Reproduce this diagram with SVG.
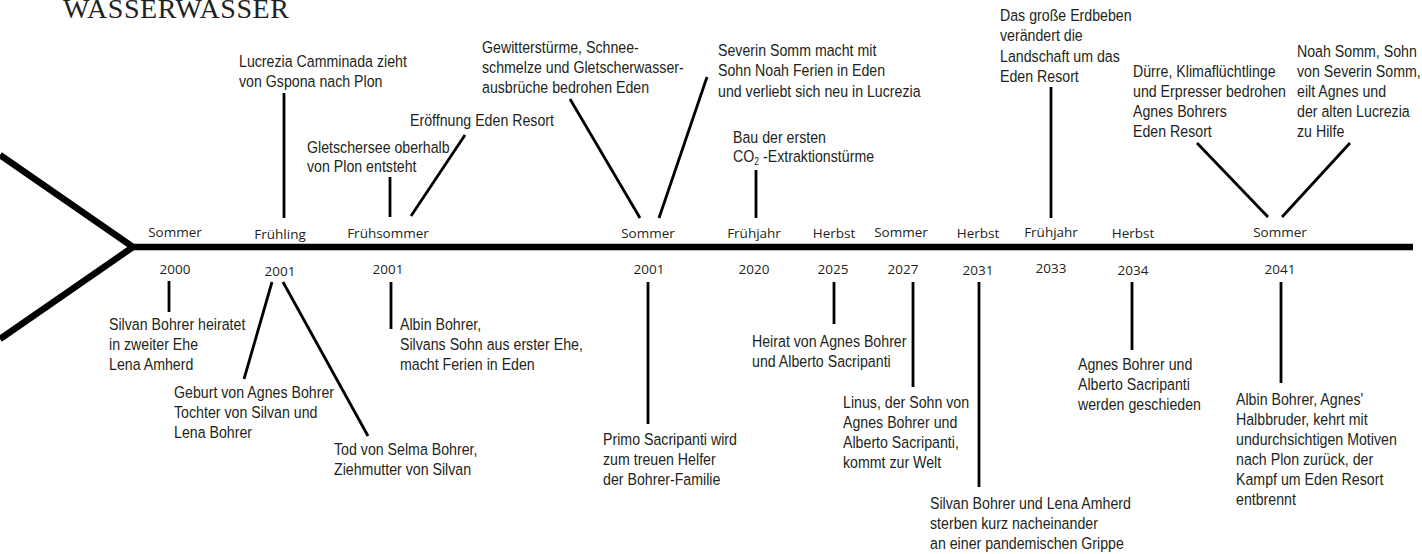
<svg xmlns="http://www.w3.org/2000/svg" width="1422" height="554" viewBox="0 0 1422 554">
<style>
.title{font-family:"Liberation Serif",serif;font-size:28px;letter-spacing:0.6px;fill:#231f20}
.lbl{font-family:"Open Sans","Noto Sans",sans-serif;font-size:13.5px;fill:#231f20;text-anchor:middle}
.ev{font-family:"Liberation Sans",Arial,sans-serif;font-size:16.5px;fill:#231f20}
.axis{stroke:#000;stroke-width:6.5;fill:none}
.con line{stroke:#000;stroke-width:2.8;stroke-linecap:butt}
</style>
<rect width="1422" height="554" fill="#fff"/>
<text class="title" x="63" y="18">WASSERWASSER</text>

<g id="axis">
<polyline class="axis" points="0,155 133,247 0,339"/>
<line class="axis" x1="131" y1="247" x2="1413" y2="247"/>
</g>

<g id="seasons">
<text class="lbl" x="175" y="237">Sommer</text>
<text class="lbl" x="280" y="239">Frühling</text>
<text class="lbl" x="388" y="238">Frühsommer</text>
<text class="lbl" x="648" y="238">Sommer</text>
<text class="lbl" x="754" y="238">Frühjahr</text>
<text class="lbl" x="834" y="238">Herbst</text>
<text class="lbl" x="901" y="237">Sommer</text>
<text class="lbl" x="978" y="238">Herbst</text>
<text class="lbl" x="1051" y="237">Frühjahr</text>
<text class="lbl" x="1133" y="238">Herbst</text>
<text class="lbl" x="1280" y="237">Sommer</text>
</g>

<g id="years">
<text class="lbl" x="175" y="274">2000</text>
<text class="lbl" x="280" y="276">2001</text>
<text class="lbl" x="388" y="274">2001</text>
<text class="lbl" x="649" y="274">2001</text>
<text class="lbl" x="754" y="274">2020</text>
<text class="lbl" x="833" y="274">2025</text>
<text class="lbl" x="903" y="274">2027</text>
<text class="lbl" x="978" y="275">2031</text>
<text class="lbl" x="1051" y="273">2033</text>
<text class="lbl" x="1133" y="275">2034</text>
<text class="lbl" x="1280" y="274">2041</text>
</g>

<g id="connectors" class="con">
<line x1="284" y1="93" x2="284" y2="218"/>
<line x1="390" y1="177" x2="390" y2="217"/>
<line x1="465" y1="135" x2="411" y2="216"/>
<line x1="570" y1="99" x2="640" y2="218"/>
<line x1="707" y1="77" x2="659" y2="218"/>
<line x1="756" y1="170" x2="756" y2="218"/>
<line x1="1051" y1="87" x2="1051" y2="218"/>
<line x1="1197" y1="143" x2="1268" y2="217"/>
<line x1="1350" y1="143" x2="1282" y2="217"/>
<line x1="169" y1="281" x2="169" y2="312"/>
<line x1="272" y1="282" x2="244" y2="379"/>
<line x1="283" y1="282" x2="368" y2="436"/>
<line x1="391" y1="282" x2="391" y2="329"/>
<line x1="648" y1="282" x2="648" y2="424"/>
<line x1="834" y1="282" x2="834" y2="324"/>
<line x1="913" y1="282" x2="913" y2="387"/>
<line x1="979" y1="282" x2="979" y2="487"/>
<line x1="1132" y1="282" x2="1132" y2="350"/>
<line x1="1281" y1="282" x2="1281" y2="383"/>
</g>

<g id="ev-lucrezia"><text class="ev" transform="translate(239,67) scale(0.86,1)"><tspan x="0" y="0">Lucrezia Camminada zieht</tspan><tspan x="0" y="20">von Gspona nach Plon</tspan></text></g>
<g id="ev-gletschersee"><text class="ev" transform="translate(307,153) scale(0.86,1)"><tspan x="0" y="0">Gletschersee oberhalb</tspan><tspan x="0" y="19">von Plon entsteht</tspan></text></g>
<g id="ev-eroeffnung"><text class="ev" transform="translate(410,126) scale(0.86,1)"><tspan x="0" y="0">Eröffnung Eden Resort</tspan></text></g>
<g id="ev-gewitter"><text class="ev" transform="translate(482,53) scale(0.86,1)"><tspan x="0" y="0">Gewitterstürme, Schnee-</tspan><tspan x="0" y="20">schmelze und Gletscherwasser-</tspan><tspan x="0" y="40">ausbrüche bedrohen Eden</tspan></text></g>
<g id="ev-severin"><text class="ev" transform="translate(718,56) scale(0.86,1)"><tspan x="0" y="0">Severin Somm macht mit</tspan><tspan x="0" y="20.5">Sohn Noah Ferien in Eden</tspan><tspan x="0" y="41">und verliebt sich neu in Lucrezia</tspan></text></g>
<g id="ev-co2"><text class="ev" transform="translate(733,143) scale(0.86,1)"><tspan x="0" y="0">Bau der ersten</tspan><tspan x="0" y="19">CO</tspan><tspan font-size="10" dy="3">2</tspan><tspan dy="-3"> -Extraktionstürme</tspan></text></g>
<g id="ev-erdbeben"><text class="ev" transform="translate(1000,21) scale(0.86,1)"><tspan x="0" y="0">Das große Erdbeben</tspan><tspan x="0" y="20.3">verändert die</tspan><tspan x="0" y="40.6">Landschaft um das</tspan><tspan x="0" y="61">Eden Resort</tspan></text></g>
<g id="ev-duerre"><text class="ev" transform="translate(1133,77) scale(0.86,1)"><tspan x="0" y="0">Dürre, Klimaflüchtlinge</tspan><tspan x="0" y="20">und Erpresser bedrohen</tspan><tspan x="0" y="40">Agnes Bohrers</tspan><tspan x="0" y="60">Eden Resort</tspan></text></g>
<g id="ev-noah"><text class="ev" transform="translate(1297,57) scale(0.86,1)"><tspan x="0" y="0">Noah Somm, Sohn</tspan><tspan x="0" y="20">von Severin Somm,</tspan><tspan x="0" y="40">eilt Agnes und</tspan><tspan x="0" y="60">der alten Lucrezia</tspan><tspan x="0" y="80">zu Hilfe</tspan></text></g>

<g id="ev-heirat2000"><text class="ev" transform="translate(109,330) scale(0.86,1)"><tspan x="0" y="0">Silvan Bohrer heiratet</tspan><tspan x="0" y="20">in zweiter Ehe</tspan><tspan x="0" y="40.5">Lena Amherd</tspan></text></g>
<g id="ev-geburt"><text class="ev" transform="translate(174,398) scale(0.86,1)"><tspan x="0" y="0">Geburt von Agnes Bohrer</tspan><tspan x="0" y="20">Tochter von Silvan und</tspan><tspan x="0" y="40">Lena Bohrer</tspan></text></g>
<g id="ev-tod"><text class="ev" transform="translate(334,455) scale(0.86,1)"><tspan x="0" y="0">Tod von Selma Bohrer,</tspan><tspan x="0" y="20">Ziehmutter von Silvan</tspan></text></g>
<g id="ev-albin2001"><text class="ev" transform="translate(400,330) scale(0.86,1)"><tspan x="0" y="0">Albin Bohrer,</tspan><tspan x="0" y="20">Silvans Sohn aus erster Ehe,</tspan><tspan x="0" y="40">macht Ferien in Eden</tspan></text></g>
<g id="ev-primo"><text class="ev" transform="translate(603,445) scale(0.86,1)"><tspan x="0" y="0">Primo Sacripanti wird</tspan><tspan x="0" y="20">zum treuen Helfer</tspan><tspan x="0" y="40">der Bohrer-Familie</tspan></text></g>
<g id="ev-heirat2025"><text class="ev" transform="translate(752,347) scale(0.86,1)"><tspan x="0" y="0">Heirat von Agnes Bohrer</tspan><tspan x="0" y="20">und Alberto Sacripanti</tspan></text></g>
<g id="ev-linus"><text class="ev" transform="translate(843,408) scale(0.86,1)"><tspan x="0" y="0">Linus, der Sohn von</tspan><tspan x="0" y="20">Agnes Bohrer und</tspan><tspan x="0" y="40">Alberto Sacripanti,</tspan><tspan x="0" y="60">kommt zur Welt</tspan></text></g>
<g id="ev-grippe"><text class="ev" transform="translate(930,509) scale(0.86,1)"><tspan x="0" y="0">Silvan Bohrer und Lena Amherd</tspan><tspan x="0" y="20">sterben kurz nacheinander</tspan><tspan x="0" y="40">an einer pandemischen Grippe</tspan></text></g>
<g id="ev-scheidung"><text class="ev" transform="translate(1078,370) scale(0.86,1)"><tspan x="0" y="0">Agnes Bohrer und</tspan><tspan x="0" y="20">Alberto Sacripanti</tspan><tspan x="0" y="40">werden geschieden</tspan></text></g>
<g id="ev-albin2041"><text class="ev" transform="translate(1236,405) scale(0.86,1)"><tspan x="0" y="0">Albin Bohrer, Agnes'</tspan><tspan x="0" y="20">Halbbruder, kehrt mit</tspan><tspan x="0" y="40">undurchsichtigen Motiven</tspan><tspan x="0" y="60">nach Plon zurück, der</tspan><tspan x="0" y="80">Kampf um Eden Resort</tspan><tspan x="0" y="100">entbrennt</tspan></text></g>
</svg>
